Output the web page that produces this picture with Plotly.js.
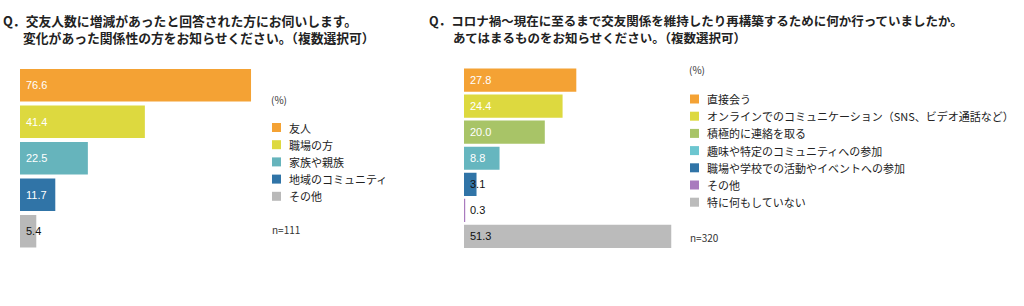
<!DOCTYPE html>
<html><head><meta charset="utf-8">
<script src="https://cdn.plot.ly/plotly-3.0.1.min.js"></script>
<style>html,body{margin:0;padding:0;background:#fff;}#c{width:1024px;height:306px;}</style>
</head><body><div id="c"></div>
<script>
// Left chart data
const leftTitle1 = "Q．交友人数に増減があったと回答された方にお伺いします。";
const leftTitle2 = "変化があった関係性の方をお知らせください。（複数選択可）";
const leftCats = ["友人", "職場の方", "家族や親族", "地域のコミュニティ", "その他"];
const leftVals = [76.6, 41.4, 22.5, 11.7, 5.4];
const leftColors = ["#F4A234", "#DDD93F", "#66B4BC", "#3074A7", "#B9B9B9"];
const leftLabelColors = ["#ffffff", "#ffffff", "#ffffff", "#ffffff", "#111111"];
const leftN = "n=111";

// Right chart data
const rightTitle1 = "Q．コロナ禍～現在に至るまで交友関係を維持したり再構築するために何か行っていましたか。";
const rightTitle2 = "あてはまるものをお知らせください。（複数選択可）";
const rightCats = ["直接会う", "オンラインでのコミュニケーション（SNS、ビデオ通話など）", "積極的に連絡を取る", "趣味や特定のコミュニティへの参加", "職場や学校での活動やイベントへの参加", "その他", "特に何もしていない"];
const rightVals = [27.8, 24.4, 20.0, 8.8, 3.1, 0.3, 51.3];
const rightColors = ["#F4A234", "#DDD93F", "#A8C467", "#66B6BF", "#3074A7", "#A97BBE", "#BBBBBB"];
const rightLegendColors = ["#F4A234", "#DDD93F", "#A8C467", "#6CC6D0", "#3074A7", "#A97BBE", "#BBBBBB"];
const rightLabelColors = ["#ffffff", "#ffffff", "#ffffff", "#ffffff", "#111111", "#111111", "#111111"];
const rightN = "n=320";

const W = 1024, H = 306;
const px = v => v / W;
const py = v => 1 - v / H;
const CJK = "'Noto Sans CJK JP', 'Noto Sans', sans-serif";
const NUMF = "'Liberation Sans', Arial, sans-serif";

const data = [
  {type: "bar", orientation: "h", x: leftVals, y: leftCats, xaxis: "x", yaxis: "y",
   marker: {color: leftColors, line: {width: 0}}, hoverinfo: "skip"},
  {type: "bar", orientation: "h", x: rightVals, y: rightCats, xaxis: "x2", yaxis: "y2",
   marker: {color: rightColors, line: {width: 0}}, hoverinfo: "skip"}
];

const annotations = [];
const shapes = [];
function addText(x, y, text, size, weight, family, color) {
  annotations.push({xref: "paper", yref: "paper", x: px(x), y: py(y), text: text,
    showarrow: false, xanchor: "left", yanchor: "middle",
    font: {size: size, weight: weight || "normal", family: family || CJK, color: color || "#222"}});
}
// Titles
addText(1, 21, leftTitle1, 12.8, "bold");
addText(21, 37, leftTitle2, 12.8, "bold");
addText(427, 21, rightTitle1, 12.5, "bold");
addText(451, 37, rightTitle2, 12.5, "bold");

// Bar value labels
leftVals.forEach((v, i) => annotations.push({xref: "x", yref: "y", x: 0, y: leftCats[i],
  text: v.toFixed(1), showarrow: false, xanchor: "left", yanchor: "middle", xshift: 4,
  font: {size: 11, family: NUMF, color: leftLabelColors[i]}}));
rightVals.forEach((v, i) => annotations.push({xref: "x2", yref: "y2", x: 0, y: rightCats[i],
  text: v.toFixed(1), showarrow: false, xanchor: "left", yanchor: "middle", xshift: 4,
  font: {size: 11, family: NUMF, color: rightLabelColors[i]}}));

// Legends
function legend(x0, yPct, yFirst, step, cats, colors, yN, nText) {
  addText(x0 - 3, yPct, "(%)", 10, "normal", CJK, "#333");
  cats.forEach((c, i) => {
    const yc = yFirst + i * step;
    shapes.push({type: "rect", xref: "paper", yref: "paper",
      x0: px(x0), x1: px(x0 + 9), y0: py(yc + 4.5), y1: py(yc - 4.5),
      fillcolor: colors[i], line: {width: 0}});
    addText(x0 + 15, yc, c, 11, "normal", CJK, "#222");
  });
  addText(x0 - 2, yN, nText, 10, "normal", CJK, "#333");
}
legend(272, 100, 127.5, 17.2, leftCats, leftColors, 229, leftN);
legend(690, 70, 99, 17.2, rightCats, rightLegendColors, 237, rightN);

const yDom = [(H - 249.5) / H, (H - 67) / H];
const layout = {
  width: W, height: H, margin: {l: 0, r: 0, t: 0, b: 0},
  paper_bgcolor: "#fff", plot_bgcolor: "rgba(0,0,0,0)",
  showlegend: false, bargap: 0.11,
  xaxis: {domain: [20 / W, (20 + 301.6) / W], range: [0, 100], visible: false, fixedrange: true, anchor: "y"},
  yaxis: {domain: yDom, autorange: "reversed", visible: false, fixedrange: true, anchor: "x"},
  xaxis2: {domain: [464 / W, (464 + 242.4) / W], range: [0, 60], visible: false, fixedrange: true, anchor: "y2"},
  yaxis2: {domain: yDom, autorange: "reversed", visible: false, fixedrange: true, anchor: "x2"},
  annotations: annotations, shapes: shapes,
  font: {family: CJK}
};
Plotly.newPlot("c", data, layout, {staticPlot: true, displayModeBar: false});
</script></body></html>
